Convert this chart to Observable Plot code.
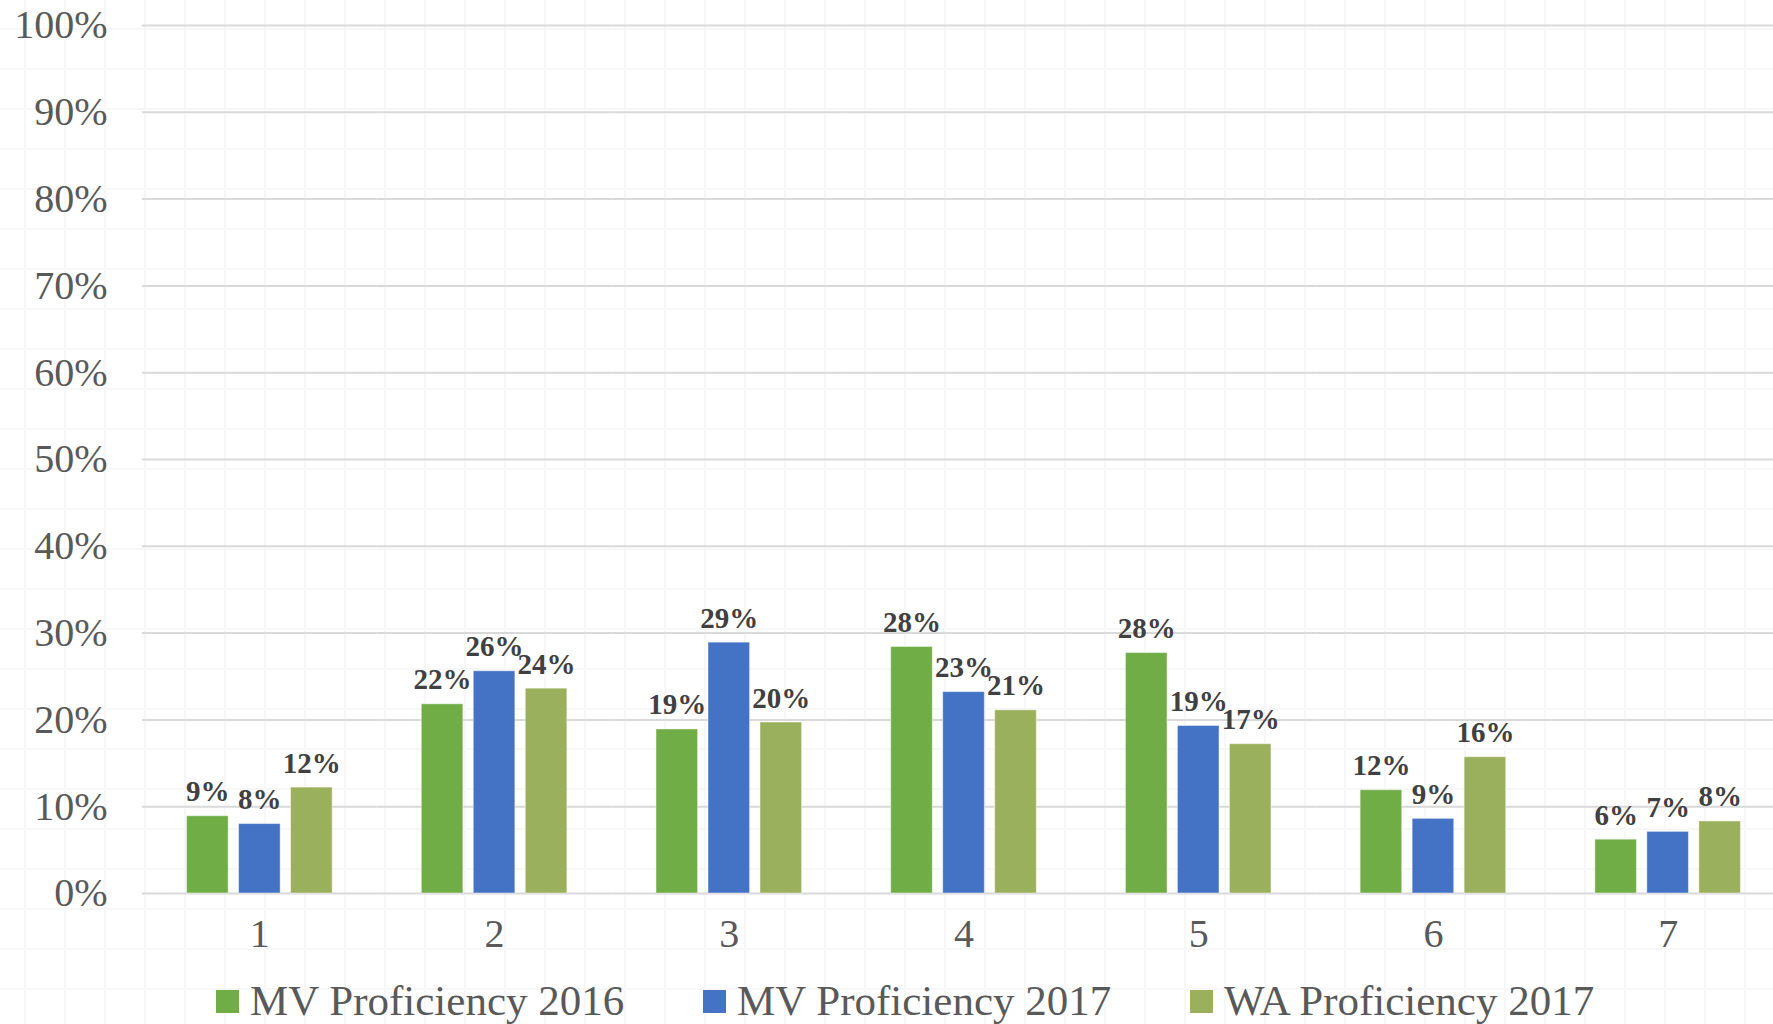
<!DOCTYPE html>
<html>
<head>
<meta charset="utf-8">
<script src="https://cdn.jsdelivr.net/npm/d3@7"></script>
<script src="https://cdn.jsdelivr.net/npm/@observablehq/plot@0.6"></script>
<style>
  html, body { margin: 0; padding: 0; }
  body {
    width: 1773px; height: 1024px; overflow: hidden; position: relative;
    background-color: #ffffff;
    background-image:
      linear-gradient(to right, #f7f7f7 2px, transparent 2px),
      linear-gradient(to bottom, #f7f7f7 2px, transparent 2px);
    background-size: 40px 40px;
    background-position: 24px 28px;
    font-family: "Liberation Serif", serif;
  }
  #legend {
    position: absolute; top: 980px; left: 216px;
    display: flex; align-items: center; height: 42px;
    color: #595959; font-size: 43px; line-height: 42px;
  }
  .item { display: flex; align-items: center; width: 487px; white-space: nowrap; }
  .sw { width: 23px; height: 23px; margin-right: 11px; flex: none; }
</style>
</head>
<body>
<div id="chart"></div>
<div id="legend"></div>
<script>
const categories = ["1", "2", "3", "4", "5", "6", "7"];
const series = ["MV Proficiency 2016", "MV Proficiency 2017", "WA Proficiency 2017"];
const mv2016 = [0.089, 0.218, 0.189, 0.284, 0.277, 0.119, 0.062];
const mv2017 = [0.080, 0.256, 0.289, 0.232, 0.193, 0.086, 0.071];
const wa2017 = [0.122, 0.236, 0.197, 0.211, 0.172, 0.157, 0.083];
const colors = ["#70AD47", "#4472C4", "#9BB05C"];
const yTicks = [0, 0.1, 0.2, 0.3, 0.4, 0.5, 0.6, 0.7, 0.8, 0.9, 1.0];

const valuesBySeries = [mv2016, mv2017, wa2017];
const data = categories.flatMap((c, i) =>
  series.map((s, j) => ({cat: c, series: s, value: valuesBySeries[j][i]}))
);
const pct = d3.format(".0%");

const chart = Plot.plot({
  width: 1785,
  height: 965,
  marginLeft: 142,
  marginRight: 0,
  marginTop: 25,
  marginBottom: 72,
  style: {background: "transparent", maxWidth: "none", fontFamily: "Liberation Serif, serif", color: "#595959", overflow: "visible"},
  fx: {domain: categories, padding: 0, round: false},
  x: {domain: series, axis: null, paddingInner: 0.2, paddingOuter: 0.857, round: false},
  y: {domain: [0, 1]},
  color: {domain: series, range: colors},
  marks: [
    Plot.gridY(yTicks, {stroke: "#d9d9d9", strokeOpacity: 1, strokeWidth: 2}),
    Plot.axisY(yTicks, {tickFormat: pct, tickSize: 0, tickPadding: 35, fontSize: 40, label: null, fill: "#595959"}),
    Plot.axisFx({anchor: "bottom", tickSize: 0, tickPadding: 25, fontSize: 40, label: null, fill: "#595959"}),
    Plot.barY(data, {fx: "cat", x: "series", y: "value", fill: "series", stroke: "#ffffff", strokeOpacity: 0.45, strokeWidth: 1}),
    Plot.text(data, {fx: "cat", x: "series", y: "value", text: d => pct(d.value), lineAnchor: "bottom", dy: -15, fontSize: 29, fontWeight: "bold", fill: "#404040"})
  ]
});
document.getElementById("chart").appendChild(chart);

const legend = document.getElementById("legend");
series.forEach((s, j) => {
  const item = document.createElement("div");
  item.className = "item";
  const sw = document.createElement("span");
  sw.className = "sw";
  sw.style.background = colors[j];
  const label = document.createElement("span");
  label.textContent = s;
  item.appendChild(sw);
  item.appendChild(label);
  legend.appendChild(item);
});
</script>
</body>
</html>
